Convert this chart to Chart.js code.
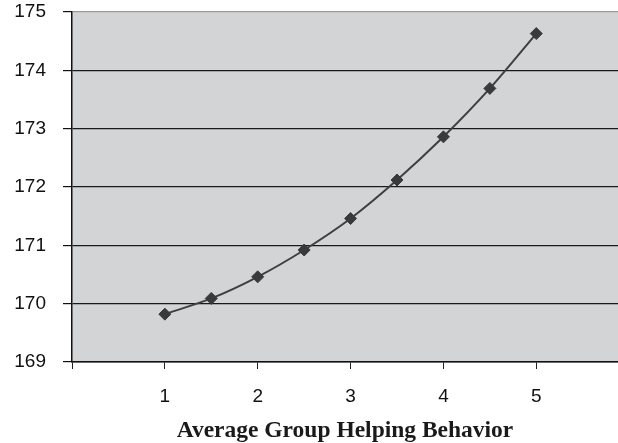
<!DOCTYPE html>
<html>
<head>
<meta charset="utf-8">
<script src="https://cdn.jsdelivr.net/npm/chart.js@4/dist/chart.umd.min.js"></script>
<style>
  html, body { margin: 0; padding: 0; background: #fff; }
  #wrap { width: 618px; height: 443px; }
</style>
</head>
<body>
<div id="wrap"><canvas id="chart"></canvas></div>
<script>
// helping behaviour (x) vs predicted height (y)
const helpingLevels = [1, 1.5, 2, 2.5, 3, 3.5, 4, 4.5, 5];
const heightValues = [169.82, 170.09, 170.46, 170.92, 171.46, 172.12, 172.86, 173.69, 174.63];
const yTicks = [169, 170, 171, 172, 173, 174, 175];
const xTickLabels = ['1', '2', '3', '4', '5'];
const xTitle = 'Average Group Helping Behavior';

const points = helpingLevels.map((x, i) => ({ x: x, y: heightValues[i] }));

// grey plot background
const plotBackground = {
  id: 'plotBackground',
  beforeDraw(chart) {
    const { ctx, chartArea: a } = chart;
    ctx.save();
    ctx.fillStyle = '#d3d4d6';
    ctx.fillRect(a.left, a.top, a.right - a.left, a.bottom - a.top);
    ctx.restore();
  }
};

new Chart(document.getElementById('chart'), {
  type: 'scatter',
  data: {
    datasets: [{
      data: points,
      showLine: true,
      tension: 0.3,
      borderColor: '#3f3f41',
      borderWidth: 2,
      pointStyle: 'rectRot',
      pointRadius: 6,
      pointBackgroundColor: '#3a3a3c',
      pointBorderColor: '#3a3a3c',
      pointBorderWidth: 1
    }]
  },
  options: {
    responsive: true,
    maintainAspectRatio: false,
    animation: false,
    layout: { autoPadding: false, padding: { top: 12, left: 0, right: 0, bottom: 0 } },
    plugins: {
      legend: { display: false },
      tooltip: { enabled: false }
    },
    scales: {
      x: {
        type: 'linear',
        min: 0,
        max: 5.88,
        afterFit: s => { s.height = 81; s.paddingLeft = 0; s.paddingRight = 0; },
        ticks: {
          stepSize: 1,
          includeBounds: false,
          autoSkip: false,
          maxRotation: 0,
          padding: 16,
          color: '#111',
          font: { family: 'Liberation Sans, Arial, sans-serif', size: 19 },
          callback: v => (v >= 1 && v <= 5 ? xTickLabels[v - 1] : '')
        },
        grid: {
          drawOnChartArea: false,
          drawTicks: true,
          tickLength: 7,
          tickColor: '#222',
          color: '#222'
        },
        border: { display: true, color: '#111', width: 1.5 },
        title: {
          display: true,
          text: xTitle,
          color: '#1a1a1a',
          font: { family: 'Liberation Serif, Times New Roman, serif', size: 23.5, weight: 'bold', lineHeight: 1 },
          padding: { top: 0, bottom: 0 }
        }
      },
      y: {
        min: yTicks[0],
        max: yTicks[yTicks.length - 1],
        afterFit: s => { s.width = 72; s.paddingTop = 0; s.paddingBottom = 0; },
        afterBuildTicks: s => { s.ticks = yTicks.map(v => ({ value: v })); },
        ticks: {
          padding: 17,
          color: '#111',
          font: { family: 'Liberation Sans, Arial, sans-serif', size: 19 }
        },
        grid: {
          drawTicks: true,
          tickLength: 9,
          lineWidth: 1.2,
          tickColor: '#111',
          color: ctx => (ctx.tick && ctx.tick.value === 175 ? '#9a9a9a' : '#1a1a1a')
        },
        border: { display: true, color: '#111', width: 1.5 }
      }
    }
  },
  plugins: [plotBackground]
});
</script>
</body>
</html>
